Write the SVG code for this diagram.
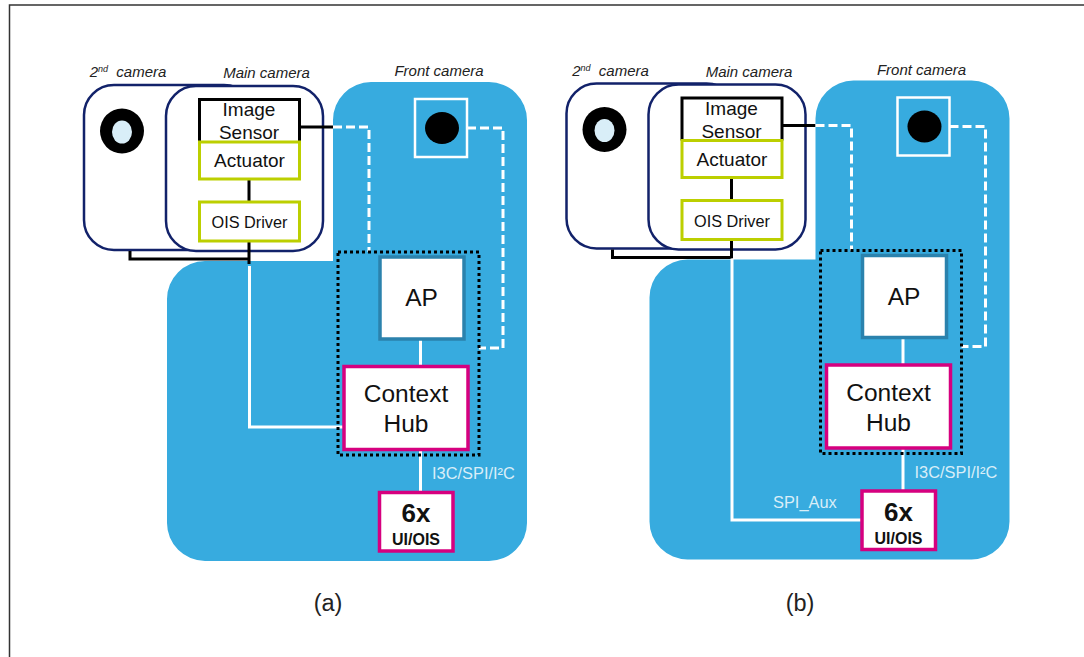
<svg xmlns="http://www.w3.org/2000/svg" width="1084" height="657" viewBox="0 0 1084 657">
<style>
text{font-family:"Liberation Sans",Arial,sans-serif;fill:#111;text-anchor:middle}
.it{font-style:italic;font-size:15px;fill:#222}
.wt{fill:#d9eef8;font-size:16.400px;text-anchor:start}
.board{fill:#37abdf}
.cam{fill:#fff;stroke:#12226a;stroke-width:2.500}
.box{fill:#fff;stroke-width:3}
.lime{stroke:#bccf00}
.mag{stroke:#d6007f;stroke-width:3.500}
.ap{stroke:#2b82ad;stroke-width:3.500}
.blk{fill:none;stroke:#000;stroke-width:3}
.wl{fill:none;stroke:#fff;stroke-width:3}
.dash{fill:none;stroke:#fff;stroke-width:3;stroke-dasharray:9 4}
.dot{fill:none;stroke:#000;stroke-width:3;stroke-dasharray:3 3}
.s19{font-size:19px}.s16{font-size:16.300px}.s24{font-size:24.500px}
.b26{font-size:26px;font-weight:700}.b16{font-size:16px;font-weight:700}
.cap{font-size:23.500px;fill:#222}
</style>
<rect width="1084" height="657" fill="#fff"/>
<path d="M1084 5H9.500V657" fill="none" stroke="#333" stroke-width="1.500"/>
<g id="a">
<g id="a-board"><path class="board" d="M333 261V120a38 38 0 0 1 38-38H489a38 38 0 0 1 38 38V523a38 38 0 0 1-38 38H205a38 38 0 0 1-38-38V299a38 38 0 0 1 38-38Z"/></g>
<g id="a-second-camera"><rect class="cam" x="84" y="85" width="170" height="165" rx="30"/><ellipse cx="122" cy="131" rx="22" ry="22.500" fill="#000"/><ellipse cx="122" cy="132" rx="10" ry="11.500" fill="#d9eef8"/><text class="it" x="128" y="77"><tspan>2</tspan><tspan font-size="9" dy="-5">nd</tspan><tspan dy="5" xml:space="preserve">  camera</tspan></text></g>
<g id="a-main-camera"><rect class="cam" x="166" y="86" width="157" height="165" rx="30"/><text class="it" x="266.500" y="78">Main camera</text></g>
<g id="a-connectors">
<path class="blk" d="M300 127H333"/><path class="dash" d="M333 127H369V252"/><path class="dash" d="M467 128H503V348H479"/>
<path class="blk" d="M249 179V202M249 241V264M130 251V259H249"/>
<path class="wl" d="M249.500 266V427H345"/><path class="wl" d="M420.500 339V366M420.500 449V492"/>
</g>
<g id="a-image-sensor"><rect x="199" y="99" width="101" height="43" fill="#fff"/><path class="blk" d="M199.500 142V99.500H299.500V142"/><text class="s19" x="249" y="116">Image</text><text class="s19" x="249" y="139">Sensor</text></g>
<g id="a-actuator"><rect class="box lime" x="199.500" y="142" width="100" height="37"/><text class="s19" x="249.500" y="167">Actuator</text></g>
<g id="a-ois"><rect class="box lime" x="199.500" y="202" width="100" height="39"/><text class="s16" x="249.500" y="228">OIS Driver</text></g>
<g id="a-front-camera"><rect x="415" y="99" width="52" height="58" fill="none" stroke="#fff" stroke-width="2.500"/><ellipse cx="442" cy="128" rx="17" ry="16" fill="#000"/><text class="it" x="439" y="76">Front camera</text></g>
<rect id="a-group" class="dot" x="338" y="252" width="141" height="203"/>
<g id="a-ap"><rect class="box ap" x="380" y="257" width="84" height="82"/><text class="s24" x="421.500" y="306">AP</text></g>
<g id="a-hub"><rect class="box mag" x="344" y="366.500" width="124" height="83"/><text class="s24" x="406" y="402">Context</text><text class="s24" x="406" y="432">Hub</text></g>
<g id="a-sensor"><rect class="box mag" x="379.500" y="492.500" width="73.500" height="58.500"/><text class="b26" x="416" y="522">6x</text><text class="b16" x="416" y="545">UI/OIS</text></g>
<text class="wt" x="432" y="479">I3C/SPI/I²C</text>
<text class="cap" x="328" y="611">(a)</text>
</g>
<g id="b" transform="translate(482.500 -1.500)">
<g id="b-board"><path class="board" d="M333 261V120a38 38 0 0 1 38-38H489a38 38 0 0 1 38 38V523a38 38 0 0 1-38 38H205a38 38 0 0 1-38-38V299a38 38 0 0 1 38-38Z"/></g>
<g id="b-second-camera"><rect class="cam" x="84" y="85" width="170" height="165" rx="30"/><ellipse cx="122" cy="131" rx="22" ry="22.500" fill="#000"/><ellipse cx="122" cy="132" rx="10" ry="11.500" fill="#d9eef8"/><text class="it" x="128" y="77"><tspan>2</tspan><tspan font-size="9" dy="-5">nd</tspan><tspan dy="5" xml:space="preserve">  camera</tspan></text></g>
<g id="b-main-camera"><rect class="cam" x="166" y="86" width="157" height="165" rx="30"/><text class="it" x="266.500" y="78">Main camera</text></g>
<g id="b-connectors">
<path class="blk" d="M300 127H333"/><path class="dash" d="M333 127H369V252"/><path class="dash" d="M467 128H503V348H479"/>
<path class="blk" d="M249 179V202M249 241V260M130 251V259H249"/>
<path class="wl" d="M249.500 260V521.500H380"/><path class="wl" d="M420.500 339V366M420.500 449V492"/>
</g>
<g id="b-image-sensor"><rect x="199" y="99" width="101" height="43" fill="#fff"/><path class="blk" d="M199.500 142V99.500H299.500V142"/><text class="s19" x="249" y="116">Image</text><text class="s19" x="249" y="139">Sensor</text></g>
<g id="b-actuator"><rect class="box lime" x="199.500" y="142" width="100" height="37"/><text class="s19" x="249.500" y="167">Actuator</text></g>
<g id="b-ois"><rect class="box lime" x="199.500" y="202" width="100" height="39"/><text class="s16" x="249.500" y="228">OIS Driver</text></g>
<g id="b-front-camera"><rect x="415" y="99" width="52" height="58" fill="none" stroke="#fff" stroke-width="2.500"/><ellipse cx="442" cy="128" rx="17" ry="16" fill="#000"/><text class="it" x="439" y="76">Front camera</text></g>
<rect id="b-group" class="dot" x="338" y="252" width="141" height="203"/>
<g id="b-ap"><rect class="box ap" x="380" y="257" width="84" height="82"/><text class="s24" x="421.500" y="306">AP</text></g>
<g id="b-hub"><rect class="box mag" x="344" y="366.500" width="124" height="83"/><text class="s24" x="406" y="402">Context</text><text class="s24" x="406" y="432">Hub</text></g>
<g id="b-sensor"><rect class="box mag" x="379.500" y="492.500" width="73.500" height="58.500"/><text class="b26" x="416" y="522">6x</text><text class="b16" x="416" y="545">UI/OIS</text></g>
<text class="wt" x="432" y="479">I3C/SPI/I²C</text>
<text class="wt" x="290.500" y="509">SPI_Aux</text>
<text class="cap" x="317.500" y="612.500">(b)</text>
</g>
</svg>
